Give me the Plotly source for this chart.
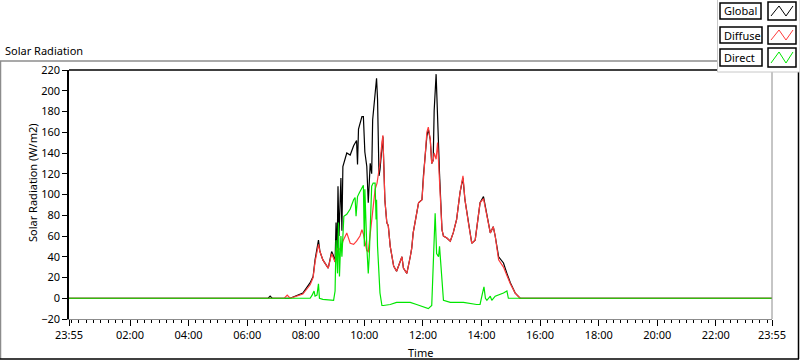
import pandas as pd
import plotly.graph_objects as go

# ---------------- data (minutes after midnight; -5 = 23:55 of previous day) ----------------
global_min = [-5, 403, 407, 411, 448, 474, 489, 495, 499, 506, 509, 515, 526, 533, 536, 540, 542, 544,
              546, 548, 552, 554, 556, 564, 571, 578, 584, 586, 588, 595, 598, 601, 605, 608, 612, 615,
              617, 622, 625, 627, 630, 632, 636, 638, 640, 642, 646, 649, 653, 656, 660, 666, 673, 677,
              680, 687, 694, 697, 700, 704, 711, 718, 721, 728, 731, 735, 738, 741, 743, 747, 750, 754,
              759, 762, 769, 776, 782, 789, 796, 802, 806, 813, 820, 827, 834, 837, 844, 851, 858, 864,
              868, 875, 885, 892, 899, 909, 919, 933, 1435]
global_val = [0, 0, 2, 0, 0, 5, 15, 21, 37, 56, 45, 37, 29, 45, 42, 35, 73, 37,
              108, 60, 116, 65, 127, 140, 138, 147, 152, 129, 163, 175, 175, 141, 127, 92, 130, 120,
              172, 195, 212, 192, 118, 124, 150, 156, 126, 95, 73, 70, 50, 43, 31, 26, 35, 40,
              29, 24, 40, 48, 63, 73, 92, 95, 118, 156, 163, 153, 130, 133, 181, 216, 166, 120,
              66, 60, 58, 55, 63, 76, 102, 116, 95, 73, 53, 56, 79, 92, 98, 79, 63, 69,
              60, 40, 34, 24, 15, 5, 0, 0, 0]

diffuse_min = [-5, 436, 442, 448, 474, 489, 495, 499, 506, 509, 515, 526, 533, 540, 542, 546, 552, 556,
               564, 571, 578, 584, 591, 595, 598, 605, 608, 612, 615, 618, 622, 626, 629, 632, 636, 638,
               640, 642, 646, 649, 653, 656, 660, 666, 673, 677, 680, 687, 694, 697, 700, 704, 711, 718,
               721, 728, 731, 735, 738, 741, 743, 747, 750, 754, 759, 762, 769, 776, 782, 789, 796, 802,
               806, 813, 820, 827, 834, 837, 844, 851, 858, 864, 868, 875, 885, 892, 899, 909, 919, 933, 1435]
diffuse_val = [0, 0, 3, 0, 4, 13, 20, 35, 52, 45, 37, 29, 43, 35, 45, 48, 47, 55,
               63, 53, 52, 55, 60, 66, 62, 46, 45, 63, 76, 92, 105, 111, 121, 130, 150, 157,
               126, 95, 73, 70, 50, 43, 31, 26, 35, 40, 29, 24, 40, 48, 63, 73, 92, 95,
               118, 160, 165, 153, 130, 133, 140, 134, 150, 118, 66, 60, 58, 55, 63, 76, 102, 118,
               95, 73, 53, 56, 79, 92, 96, 79, 63, 69, 60, 37, 30, 22, 14, 5, 0, 0, 0]

direct_min = [-5, 489, 493, 497, 499, 503, 506, 508, 515, 530, 537, 540, 542, 545, 547, 549, 552, 554,
              558, 564, 571, 578, 581, 583, 586, 590, 595, 598, 600, 601, 605, 608, 610, 613, 615, 618,
              622, 624, 625, 627, 630, 632, 636, 639, 653, 666, 679, 694, 707, 721, 731, 738, 741, 745,
              748, 752, 754, 757, 761, 762, 776, 803, 830, 837, 842, 845, 848, 851, 858, 861, 868, 875,
              885, 892, 895, 1435]
direct_val = [0, 0, 3, 7, 2, 3, 14, 0, -1, -2, -2, 7, 56, 24, 73, 21, 60, 40,
              79, 81, 86, 95, 97, 79, 98, 102, 107, 109, 50, 105, 50, 24, 40, 95, 108, 111,
              111, 76, 95, 50, 24, 5, -7, -7, -6, -4, -4, -4, -6, -8, -10, -7, 35, 82,
              43, 40, 50, 30, 0, -2, -4, -4, -6, -6, 5, 11, 0, -2, 2, -2, 2, 3,
              5, 7, 0, 0]

series_names = ["Global", "Diffuse", "Direct"]
series_colors = ["#000000", "#ff3b3b", "#00e600"]
y_ticks = list(range(-20, 221, 20))
x_tick_labels = ["23:55", "02:00", "04:00", "06:00", "08:00", "10:00", "12:00",
                 "14:00", "16:00", "18:00", "20:00", "22:00", "23:55"]
x_tick_minutes = [-5, 120, 240, 360, 480, 600, 720, 840, 960, 1080, 1200, 1320, 1435]

# ---------------- figure ----------------
base = pd.Timestamp("2024-01-02 00:00")
def to_time(mins):
    return [base + pd.Timedelta(minutes=m) for m in mins]

W, H = 800, 361
L, R, T, B = 69, 772, 70, 319  # plot area in px

fig = go.Figure()
for name, color, tm, vals in zip(series_names, series_colors,
                                 [global_min, diffuse_min, direct_min],
                                 [global_val, diffuse_val, direct_val]):
    fig.add_trace(go.Scatter(x=to_time(tm), y=vals, mode="lines", name=name,
                             line=dict(color=color, width=1.2), showlegend=False))

FONT = "Noto Sans"
FS = 11
tick_font = dict(family=FONT, size=FS, color="#000000")

fig.update_layout(
    width=W, height=H,
    margin=dict(l=L, r=W - R, t=T, b=H - B, pad=0),
    paper_bgcolor="white", plot_bgcolor="white",
    showlegend=False,
    xaxis=dict(
        type="date",
        range=[base + pd.Timedelta(minutes=-5), base + pd.Timedelta(minutes=1435)],
        tickmode="array",
        tickvals=to_time(x_tick_minutes),
        ticktext=x_tick_labels,
        ticks="outside", ticklen=6, tickcolor="black", tickwidth=1,
        minor=dict(ticks="outside", ticklen=3, tickcolor="black", tickwidth=1,
                   dtick=15 * 60 * 1000, tick0=base, showgrid=False),
        showgrid=False, zeroline=False,
        showline=True, linecolor="#8c8c8c", linewidth=1, mirror=False,
        tickfont=tick_font,
    ),
    yaxis=dict(
        range=[-20, 220],
        tickmode="array", tickvals=y_ticks,
        ticks="outside", ticklen=5, tickcolor="black", tickwidth=1,
        showgrid=False, zeroline=False,
        showline=True, linecolor="black", linewidth=1.5,
        tickfont=tick_font,
    ),
)

def px_x(px):
    return (px - L) / (R - L)

def px_y(py):
    return (B - py) / (B - T)

shapes = []
# plot-area top (black) and right (gray) border
shapes.append(dict(type="line", xref="paper", yref="paper", x0=0, x1=1, y0=1, y1=1,
                   line=dict(color="black", width=1.5)))
shapes.append(dict(type="line", xref="paper", yref="paper", x0=1, x1=1, y0=0, y1=1,
                   line=dict(color="#8c8c8c", width=1)))
# outer panel frame
shapes.append(dict(type="line", xref="paper", yref="paper", x0=px_x(0), x1=px_x(718),
                   y0=px_y(61), y1=px_y(61), line=dict(color="#8c8c8c", width=1.5)))
shapes.append(dict(type="line", xref="paper", yref="paper", x0=px_x(0.5), x1=px_x(0.5),
                   y0=px_y(61), y1=px_y(359), line=dict(color="#8c8c8c", width=1.5)))
shapes.append(dict(type="line", xref="paper", yref="paper", x0=px_x(0), x1=px_x(799),
                   y0=px_y(359), y1=px_y(359), line=dict(color="black", width=1.5)))
shapes.append(dict(type="line", xref="paper", yref="paper", x0=px_x(798.5), x1=px_x(798.5),
                   y0=px_y(72), y1=px_y(359), line=dict(color="black", width=1.5)))
# legend panel
shapes.append(dict(type="rect", xref="paper", yref="paper", x0=px_x(717.5), x1=px_x(800),
                   y0=px_y(72), y1=px_y(-1), fillcolor="white",
                   line=dict(color="#c8c8c8", width=1)))

annotations = []
legend_rows = [(3, 19), (27, 43), (49, 66)]
text_right = [761, 762, 762]
for (y0, y1), name, color, tr in zip(legend_rows, series_names, series_colors, text_right):
    shapes.append(dict(type="rect", xref="paper", yref="paper", x0=px_x(720), x1=px_x(tr),
                       y0=px_y(y1), y1=px_y(y0), fillcolor="white",
                       line=dict(color="black", width=1.5)))
    shapes.append(dict(type="rect", xref="paper", yref="paper", x0=px_x(768), x1=px_x(796),
                       y0=px_y(y1 + 1), y1=px_y(y0 - 1), fillcolor="white",
                       line=dict(color="black", width=1.5)))
    pts = [(771, y1 - 3), (779, y0 + 3), (786, y1 - 3), (793, y0 + 3)]
    path = "M " + " L ".join(f"{px_x(a):.5f},{px_y(b):.5f}" for a, b in pts)
    shapes.append(dict(type="path", xref="paper", yref="paper", path=path,
                       line=dict(color=color, width=1)))
    annotations.append(dict(text=name, xref="paper", yref="paper", x=px_x(721.5), y=px_y((y0 + y1) / 2),
                            xanchor="left", yanchor="middle", showarrow=False,
                            font=dict(family=FONT, size=FS, color="black")))

annotations.append(dict(text="Solar Radiation", xref="paper", yref="paper", x=px_x(3), y=px_y(51),
                        xanchor="left", yanchor="middle", showarrow=False,
                        font=dict(family=FONT, size=FS, color="black")))
annotations.append(dict(text="Solar Radiation (W/m2)", xref="paper", yref="paper", x=px_x(32),
                        y=px_y(183), xanchor="center", yanchor="middle", textangle=-90,
                        showarrow=False, font=dict(family=FONT, size=FS, color="black")))
annotations.append(dict(text="Time", xref="paper", yref="paper", x=px_x(420), y=px_y(352),
                        xanchor="center", yanchor="middle", showarrow=False,
                        font=dict(family=FONT, size=FS, color="black")))

fig.update_layout(shapes=shapes, annotations=annotations)
fig.write_html("out.html", config={"displayModeBar": False},
               post_script="document.body.style.margin='0';document.body.style.padding='0';")
